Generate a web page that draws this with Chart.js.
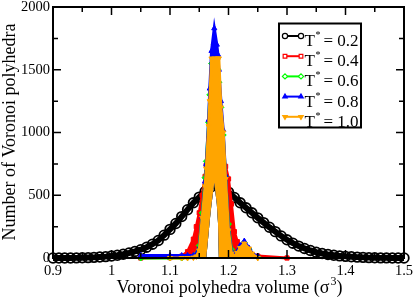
<!DOCTYPE html>
<html>
<head>
<meta charset="utf-8">
<script src="https://cdn.jsdelivr.net/npm/chart.js@4.4.1/dist/chart.umd.min.js"></script>
<style>
html, body { margin: 0; padding: 0; background: #fff; }
</style>
</head>
<body>
<canvas id="chart" width="415" height="300"></canvas>
<script>
// series labels and styles
const temperatures = ['0.2', '0.4', '0.6', '0.8', '1.0'];
const colors = ['#000000', '#ff0000', '#00ff00', '#0000ff', '#ffa500'];
const markers = ['circle', 'rect', 'rectRot', 'triangle', 'triangle'];
const markerRotation = [0, 0, 0, 0, 180];

// T* = 0.2, broad distribution
const broadVolumes = [0.90, 0.91, 0.92, 0.93, 0.94, 0.95, 0.96, 0.97, 0.98, 0.99,
    1.00, 1.01, 1.02, 1.03, 1.04, 1.05, 1.06, 1.07, 1.08, 1.09,
    1.10, 1.11, 1.12, 1.13, 1.14, 1.15, 1.16, 1.17, 1.18, 1.19,
    1.20, 1.21, 1.22, 1.23, 1.24, 1.25, 1.26, 1.27, 1.28, 1.29,
    1.30, 1.31, 1.32, 1.33, 1.34, 1.35, 1.36, 1.37, 1.38, 1.39,
    1.40, 1.41, 1.42, 1.43, 1.44, 1.45, 1.46, 1.47, 1.48, 1.49, 1.50];
const countsT02 = [0, 0, 0, 0, 1, 2, 3, 5, 8, 11,
    16, 22, 30, 40, 52, 66, 86, 110, 140, 182,
    228, 275, 330, 385, 440, 485, 530, 565, 585, 565,
    525, 482, 440, 400, 360, 320, 282, 245, 210, 176,
    145, 118, 95, 76, 60, 46, 36, 28, 22, 17,
    13, 10, 7, 5, 3, 2, 1, 1, 0, 0, 0];

// sharp peaks (T* = 0.4 .. 1.0), upper edge
const peakVolumes = [1.05, 1.10, 1.12, 1.13, 1.14, 1.145, 1.15, 1.155, 1.16, 1.162,
    1.166, 1.168, 1.171, 1.1757, 1.18, 1.182, 1.1835, 1.187, 1.191, 1.195,
    1.20, 1.205, 1.21, 1.215, 1.22, 1.227, 1.235, 1.24, 1.25, 1.30];
const countsT04 = [0, 3, 15, 50, 150, 250, 360, 500, 650, 740,
    950, 1100, 1350, 1450, 1300, 1150, 1050, 900, 800, 730,
    630, 430, 210, 130, 80, 55, 40, 28, 15, 0];
const countsT06 = [0, 0, 0, 5, 15, 30, 100, 360, 640, 770,
    1080, 1300, 1550, 1700, 1600, 1500, 1400, 1200, 980, 650,
    270, 70, 30, 45, 90, 125, 70, 30, 10, null];
const countsT08 = [20, 20, 20, 20, 20, 30, 80, 330, 610, 750,
    1100, 1350, 1650, 1830, 1700, 1620, 1500, 1250, 1020, 660,
    240, 55, 25, 50, 100, 135, 80, 35, 15, null];
const countsT10 = [null, 0, 0, 0, 3, 12, 60, 320, 570, 710,
    1050, 1250, 1590, 1590, 1590, 1590, 1590, 1200, 1000, 630,
    220, 35, 15, 40, 80, 115, 75, 35, 0, null];
// empty gap under the peaks
const valleyFloor = [0, 0, 0, 0, 0, 0, 0, 0, 0, 0,
    200, 300, 430, 600, 430, 280, 0, 0, 0, 0,
    0, 0, 0, 0, 0, 0, 0, 0, 0, 0];

const xTicks = [0.9, 1.0, 1.1, 1.2, 1.3, 1.4, 1.5];
const xMinorTicks = [0.95, 1.05, 1.15, 1.25, 1.35, 1.45];
const yTicks = [0, 500, 1000, 1500, 2000];
const yMinorTicks = [250, 750, 1250, 1750];

const SERIF = "'Liberation Serif', 'DejaVu Serif', serif";

function toPoints(xs, ys) {
    return xs.map((x, i) => ({ x: x, y: ys[i] }));
}

const peakSeries = [countsT04, countsT06, countsT08, countsT10];
const VALLEY_INDEX = 5;

const datasets = [{
    label: 'T* = ' + temperatures[0],
    data: toPoints(broadVolumes, countsT02),
    showLine: true,
    borderColor: colors[0],
    borderWidth: 6,
    pointStyle: markers[0],
    pointRadius: 4.8,
    pointBorderWidth: 1.8,
    pointBorderColor: colors[0],
    pointBackgroundColor: 'rgba(0,0,0,0)',
    fill: false,
    clip: false,
    order: 6
}];
peakSeries.forEach((counts, i) => {
    const k = i + 1;
    datasets.push({
        label: 'T* = ' + temperatures[k],
        data: toPoints(peakVolumes, counts),
        showLine: true,
        spanGaps: false,
        borderColor: colors[k],
        backgroundColor: colors[k],
        borderWidth: 3,
        pointStyle: markers[k],
        rotation: markerRotation[k],
        pointRadius: 3,
        pointBorderWidth: 1,
        pointBorderColor: colors[k],
        pointBackgroundColor: colors[k],
        fill: { target: VALLEY_INDEX },
        clip: false,
        order: 6 - k
    });
});
datasets.push({
    label: 'valley',
    data: toPoints(peakVolumes, valleyFloor),
    showLine: true,
    borderWidth: 0,
    borderColor: 'rgba(0,0,0,0)',
    pointRadius: 0,
    fill: false,
    order: 7
});

function drawSup(ctx, base, sup, x, y, size, supSize, gap) {
    ctx.font = size + 'px ' + SERIF;
    ctx.fillText(base, x, y);
    const w = ctx.measureText(base).width;
    ctx.font = supSize + 'px ' + SERIF;
    ctx.fillText(sup, x + w + gap, y - 8);
    return w + gap + ctx.measureText(sup).width;
}

const framePlugin = {
    id: 'frame',
    afterDraw(chart) {
        const ctx = chart.ctx;
        const a = chart.chartArea;
        const xs = chart.scales.x, ys = chart.scales.y;
        ctx.save();
        ctx.strokeStyle = '#000';
        ctx.lineWidth = 1.5;
        ctx.beginPath();
        xTicks.concat(xMinorTicks).forEach(v => {
            const len = xTicks.includes(v) ? 8 : 5;
            const px = xs.getPixelForValue(v);
            ctx.moveTo(px, a.bottom); ctx.lineTo(px, a.bottom - len);
            ctx.moveTo(px, a.top); ctx.lineTo(px, a.top + len);
        });
        yTicks.concat(yMinorTicks).forEach(v => {
            const len = yTicks.includes(v) ? 8 : 5;
            const py = ys.getPixelForValue(v);
            ctx.moveTo(a.left, py); ctx.lineTo(a.left + len, py);
            ctx.moveTo(a.right, py); ctx.lineTo(a.right - len, py);
        });
        ctx.stroke();
        ctx.lineWidth = 2;
        ctx.strokeRect(a.left, a.top, a.right - a.left, a.bottom - a.top);

        // axis titles
        ctx.fillStyle = '#000';
        ctx.textBaseline = 'alphabetic';
        ctx.textAlign = 'left';
        const main = 'Voronoi polyhedra volume (\u03c3';
        ctx.font = '18px ' + SERIF;
        const wMain = ctx.measureText(main).width;
        const wEnd = ctx.measureText(')').width;
        ctx.font = '12px ' + SERIF;
        const wSup = ctx.measureText('3').width + 1;
        const tx = (a.left + a.right) / 2 + 1 - (wMain + wSup + wEnd) / 2;
        const tw = drawSup(ctx, main, '3', tx, 293, 18, 12, 1);
        ctx.font = '18px ' + SERIF;
        ctx.fillText(')', tx + tw, 293);

        ctx.save();
        ctx.translate(10, 132);
        ctx.rotate(-Math.PI / 2);
        ctx.textAlign = 'center';
        ctx.textBaseline = 'middle';
        ctx.font = '18px ' + SERIF;
        ctx.fillText('Number of Voronoi polyhedra', 0, 0);
        ctx.restore();

        // legend
        const bx = 279, by = 23.5, bw = 82, bh = 104;
        ctx.fillStyle = '#fff';
        ctx.fillRect(bx, by, bw, bh);
        ctx.lineWidth = 2;
        ctx.strokeStyle = '#000';
        ctx.strokeRect(bx, by, bw, bh);
        temperatures.forEach((t, i) => {
            const ly = 36 + 20.2 * i;
            ctx.strokeStyle = colors[i];
            ctx.lineWidth = 2;
            ctx.beginPath();
            ctx.moveTo(285, ly); ctx.lineTo(301, ly);
            ctx.stroke();
            const hollow = i < 3;
            [285, 301].forEach(mx => {
                ctx.fillStyle = hollow ? '#fff' : colors[i];
                ctx.strokeStyle = colors[i];
                ctx.lineWidth = 1.2;
                Chart.helpers.drawPoint(ctx, {
                    pointStyle: markers[i], rotation: markerRotation[i],
                    radius: 2.6, borderWidth: 1.2
                }, mx, ly);
            });
            ctx.fillStyle = '#000';
            drawSup(ctx, 'T', '*', 304.5, ly + 10, 17, 10, 0.5);
            ctx.font = '17px ' + SERIF;
            ctx.fillText('= ' + t, 323.5, ly + 10);
        });
        ctx.restore();
    }
};

const tickFont = { family: SERIF, size: 14.5 };

new Chart(document.getElementById('chart'), {
    type: 'scatter',
    data: { datasets: datasets },
    options: {
        responsive: false,
        animation: false,
        events: [],
        layout: { padding: { top: 7, right: 11, left: 0, bottom: 0 } },
        plugins: { legend: { display: false }, tooltip: { enabled: false } },
        scales: {
            x: {
                type: 'linear', min: 0.9, max: 1.5,
                grid: { display: false, drawTicks: false, tickLength: 0 },
                border: { display: false },
                ticks: { font: tickFont, color: '#000', padding: 4, maxRotation: 0, autoSkip: false,
                    callback: v => String(v) },
                afterBuildTicks: s => { s.ticks = xTicks.map(v => ({ value: v })); },
                afterFit: s => { s.height = 42; s.paddingLeft = 0; s.paddingRight = 0; }
            },
            y: {
                min: 0, max: 2000,
                grid: { display: false, drawTicks: false, tickLength: 0 },
                border: { display: false },
                ticks: { font: tickFont, color: '#000', padding: 3, autoSkip: false,
                    callback: v => String(v) },
                afterBuildTicks: s => { s.ticks = yTicks.map(v => ({ value: v })); },
                afterFit: s => { s.width = 53; s.paddingTop = 0; s.paddingBottom = 0; }
            }
        }
    },
    plugins: [framePlugin]
});
</script>
</body>
</html>
